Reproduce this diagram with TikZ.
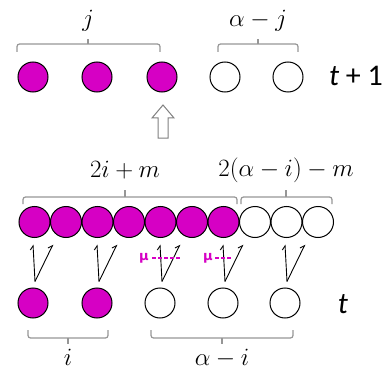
\documentclass[tikz,border=0pt]{standalone}
\usepackage{fontspec}
\newfontfamily\carlito{Carlito}
\newfontfamily\dejavu{DejaVu Sans}
\usetikzlibrary{arrows.meta}
\definecolor{mag}{RGB}{214,0,196}
\definecolor{bracegray}{RGB}{150,150,150}
\begin{document}
\begin{tikzpicture}[x=1pt,y=-1pt,
  dot/.style={circle,draw=black,line width=1pt,minimum size=30pt,inner sep=0pt},
  fdot/.style={dot,fill=mag},
  edot/.style={dot,fill=white},
  sdot/.style={dot,minimum size=31pt},
  brc/.style={draw=bracegray,line width=1.2pt,rounded corners=2.5pt},
  lbl/.style={inner sep=0pt,font=\fontsize{23}{23}\selectfont},
  tlbl/.style={inner sep=0pt,font=\carlito\fontsize{30}{30}\selectfont},
  arr/.style={line width=0.9pt,-{Straight Barb[left,length=4pt,width=6pt]}},
  mu/.style={inner sep=0pt,text=mag,font=\dejavu\bfseries\fontsize{13}{13}\selectfont},
  mudash/.style={draw=mag,line width=1.3pt,dash pattern=on 4pt off 2pt}]
\useasboundingbox (0,0) rectangle (386,369);
% top row (t+1)
\node[fdot] (a1) at (33,77) {};
\node[fdot] (a2) at (97,77) {};
\node[fdot] (a3) at (162,77) {};
\node[edot] (a4) at (225,77) {};
\node[edot] (a5) at (288,77) {};
\node[tlbl] (tp1) at (356,76) {\textit{t} + 1};
% top braces
\path[brc] (17,52) -- (17,44) -- (160,44) -- (160,52);
\path[brc] (88,44) -- (88,39);
\node[lbl] (lj) at (88,21) {$j$};
\path[brc] (218,52) -- (218,44) -- (298,44) -- (298,52);
\path[brc] (258,44) -- (258,39);
\node[lbl] (laj) at (258,21) {$\alpha-j$};
% hollow arrow
\draw[draw=gray,line width=1pt,fill=white,line join=miter]
  (163,105) -- (174,118) -- (168,118) -- (168,138) -- (158,138) -- (158,118) -- (152,118) -- cycle;
% middle row
\foreach \k in {1,...,7} {
  \node[sdot,fill=mag] (m\k) at ({34.5+31.5*(\k-1)},222) {};
}
\foreach \k in {8,9,10} {
  \node[sdot,fill=white] (m\k) at ({34.5+31.5*(\k-1)},222) {};
}
% middle braces
\path[brc] (23,204) -- (23,197) -- (237,197) -- (237,204);
\path[brc] (125,197) -- (125,190);
\node[lbl] (l2im) at (125,170) {$2i+m$};
\path[brc] (241,204) -- (241,197) -- (332,197) -- (332,204);
\path[brc] (286,197) -- (286,190);
\node[lbl] (l2ai) at (286,170) {$2(\alpha-i)-m$};
% bottom row (t)
\node[fdot] (b1) at (33,303) {};
\node[fdot] (b2) at (97,303) {};
\node[edot] (b3) at (160,303) {};
\node[edot] (b4) at (223,303) {};
\node[edot] (b5) at (285,303) {};
\node[tlbl] (tt) at (343,304) {\textit{t}};
% arrows
\foreach \b in {b1,b2,b3,b4,b5} {
  \coordinate (\b s) at ([xshift=2pt,yshift=6pt]\b.north);
  \coordinate (\b l) at ([xshift=0pt,yshift=43pt]\b.north);
  \coordinate (\b r) at ([xshift=20pt,yshift=43pt]\b.north);
  \draw[arr] (\b s) -- (\b l);
  \draw[arr] (\b s) -- (\b r);
}
% mutation marks
\node[mu] (mu1) at (144,258) {μ};
\coordinate (d1a) at (152,258);
\coordinate (d1b) at (181,258);
\path[mudash] (d1a) -- (d1b);
\node[mu] (mu2) at (208,258) {μ};
\coordinate (d2a) at (215,258);
\coordinate (d2b) at (231,258);
\path[mudash] (d2a) -- (d2b);
% bottom braces
\path[brc] (28,330) -- (28,338) -- (108,338) -- (108,330);
\path[brc] (68,338) -- (68,344);
\node[lbl,anchor=base] (li) at (68,365) {$i$};
\path[brc] (151,330) -- (151,338) -- (293,338) -- (293,330);
\path[brc] (222,338) -- (222,344);
\node[lbl,anchor=base] (lai) at (222,365) {$\alpha-i$};
\end{tikzpicture}
\end{document}
